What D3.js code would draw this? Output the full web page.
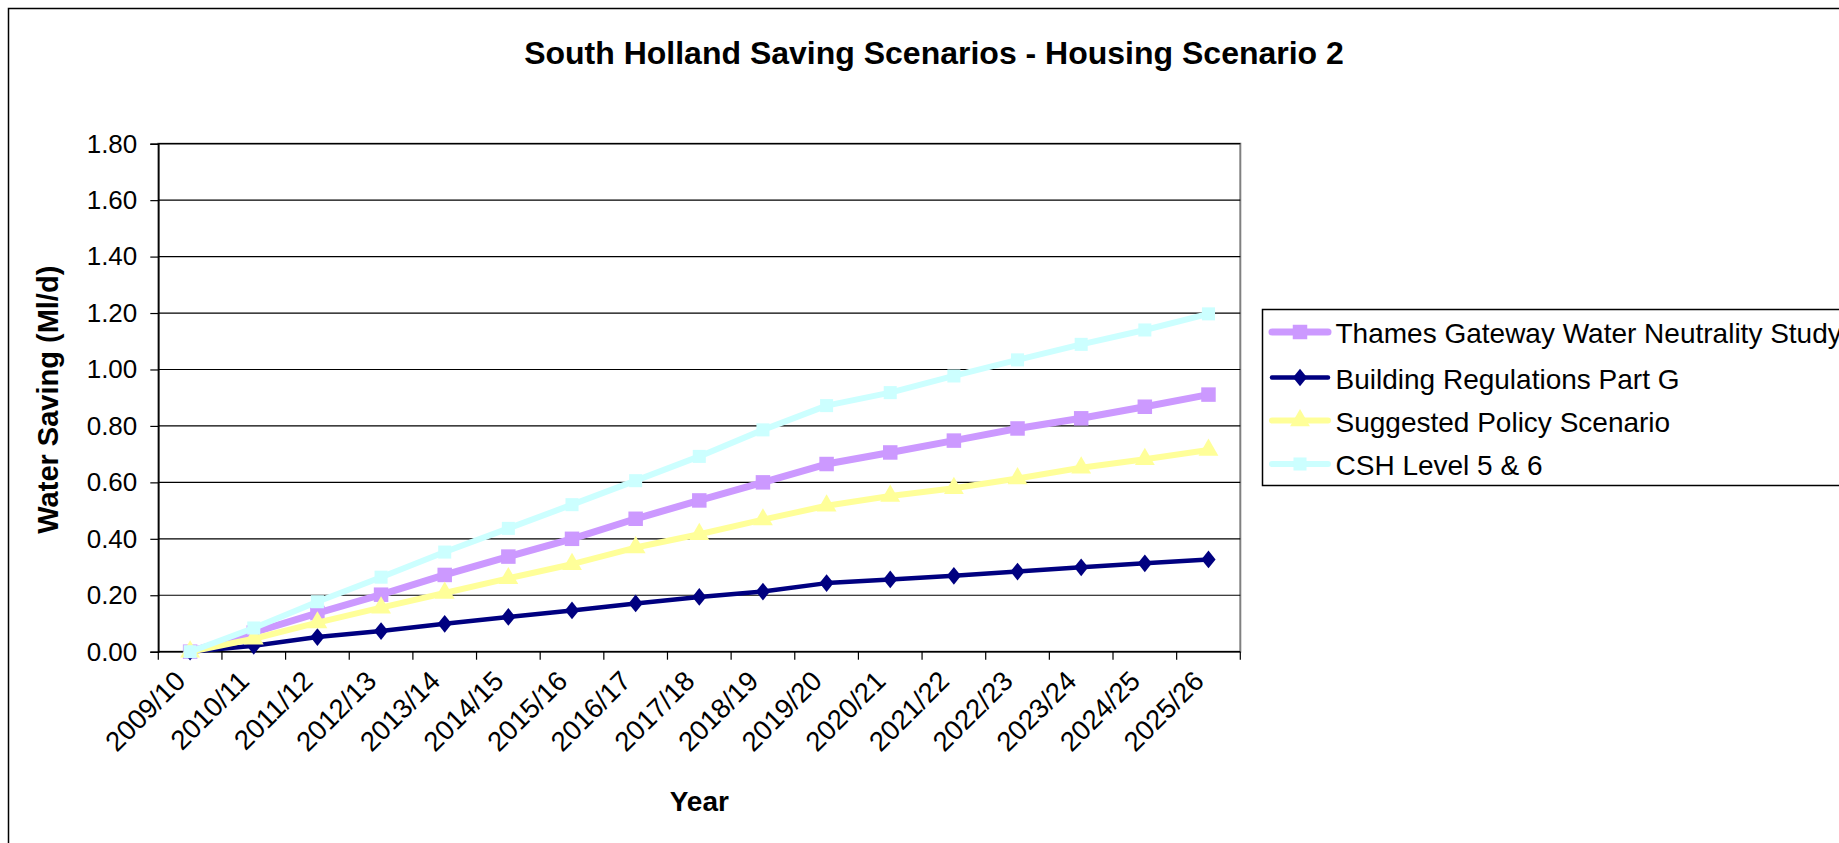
<!DOCTYPE html>
<html>
<head>
<meta charset="utf-8">
<script src="https://cdn.jsdelivr.net/npm/d3@7"></script>
<style>
  html, body { margin: 0; padding: 0; background: #fff; }
  svg { display: block; font-family: "Liberation Sans", Arial, sans-serif; }
</style>
</head>
<body>
<svg id="chart" width="1839" height="843"></svg>
<script>
const categories = ["2009/10","2010/11","2011/12","2012/13","2013/14","2014/15","2015/16","2016/17","2017/18","2018/19","2019/20","2020/21","2021/22","2022/23","2023/24","2024/25","2025/26"];
const seriesNames = ["Thames Gateway Water Neutrality Study","Building Regulations Part G","Suggested Policy Scenario","CSH Level 5 & 6"];
const thamesValues = [0, 0.068, 0.137, 0.202, 0.272, 0.337, 0.400, 0.471, 0.536, 0.600, 0.665, 0.706, 0.748, 0.791, 0.827, 0.868, 0.911];
const buildingValues = [0, 0.021, 0.052, 0.073, 0.099, 0.123, 0.146, 0.171, 0.194, 0.213, 0.243, 0.256, 0.269, 0.284, 0.299, 0.313, 0.327];
const suggestedValues = [0, 0.046, 0.103, 0.156, 0.208, 0.260, 0.310, 0.369, 0.416, 0.468, 0.517, 0.552, 0.579, 0.614, 0.652, 0.682, 0.715];
const cshValues = [0, 0.084, 0.177, 0.264, 0.353, 0.437, 0.521, 0.606, 0.692, 0.786, 0.872, 0.918, 0.977, 1.034, 1.089, 1.140, 1.197];
const yTicks = [0, 0.2, 0.4, 0.6, 0.8, 1.0, 1.2, 1.4, 1.6, 1.8];
const titleText = "South Holland Saving Scenarios - Housing Scenario 2";
const xTitle = "Year";
const yTitle = "Water Saving (Ml/d)";

const svg = d3.select("#chart");
const plot = {left: 158.3, right: 1240.3, top: 143.7, bottom: 651.7};

// outer chart border
svg.append("rect").attr("x", 8.5).attr("y", 8.5).attr("width", 1900).attr("height", 900)
  .attr("fill", "#fff").attr("stroke", "#000").attr("stroke-width", 1.5);

const x = d3.scaleBand().domain(categories).range([plot.left, plot.right]).padding(0);
const y = d3.scaleLinear().domain([0, 1.8]).range([plot.bottom, plot.top]);
const cx = c => x(c) + x.bandwidth() / 2;

// plot area frame (grey top/right)
svg.append("rect").attr("x", plot.left).attr("y", plot.top)
  .attr("width", plot.right - plot.left).attr("height", plot.bottom - plot.top)
  .attr("fill", "#fff").attr("stroke", "#808080").attr("stroke-width", 2);

// gridlines
svg.append("g").selectAll("line").data(yTicks.slice(1)).join("line")
  .attr("x1", plot.left).attr("x2", plot.right)
  .attr("y1", d => y(d)).attr("y2", d => y(d))
  .attr("stroke", "#000").attr("stroke-width", 1.2);

// y axis
const yAxis = svg.append("g").attr("transform", `translate(${plot.left},0)`)
  .call(d3.axisLeft(y).tickValues(yTicks).tickFormat(d3.format(".2f")).tickSize(8).tickPadding(13));
yAxis.select(".domain").attr("stroke", "#000").attr("stroke-width", 1.5);
yAxis.selectAll(".tick line").attr("stroke", "#000").attr("stroke-width", 1.2);
yAxis.selectAll(".tick text").attr("font-size", 26).attr("fill", "#000")
  .attr("font-family", '"Liberation Sans", Arial, sans-serif');

// x axis line + ticks at category boundaries
const xg = svg.append("g");
xg.append("line").attr("x1", plot.left).attr("x2", plot.right)
  .attr("y1", plot.bottom).attr("y2", plot.bottom).attr("stroke", "#000").attr("stroke-width", 1.5);
const boundaries = categories.map(c => x(c)).concat([x.range()[1]]);
xg.selectAll("line.tk").data(boundaries).join("line").attr("class", "tk")
  .attr("x1", d => d).attr("x2", d => d)
  .attr("y1", plot.bottom).attr("y2", plot.bottom + 8)
  .attr("stroke", "#000").attr("stroke-width", 1.2);
xg.selectAll("text").data(categories).join("text")
  .attr("transform", c => `translate(${cx(c) - 3},${plot.bottom + 31}) rotate(-45)`)
  .attr("text-anchor", "end")
  .attr("font-size", 27.5).attr("fill", "#000")
  .text(c => c);

// series
const diamond = {
  draw(ctx, size) {
    const h = Math.sqrt(size) * 0.75, w = Math.sqrt(size) * 0.6;
    ctx.moveTo(0, -h); ctx.lineTo(w, 0); ctx.lineTo(0, h); ctx.lineTo(-w, 0); ctx.closePath();
  }
};
const series = [
  {name: seriesNames[0], values: thamesValues, color: "#CC99FF", width: 7, symbol: d3.symbolSquare, size: 210},
  {name: seriesNames[1], values: buildingValues, color: "#000080", width: 4.5, symbol: diamond, size: 140},
  {name: seriesNames[2], values: suggestedValues, color: "#FFFF99", width: 6, symbol: d3.symbolTriangle, size: 170},
  {name: seriesNames[3], values: cshValues, color: "#CCFFFF", width: 6, symbol: d3.symbolSquare, size: 170}
];
const line = d3.line().x((d, i) => cx(categories[i])).y(d => y(d));
series.forEach(s => {
  const g = svg.append("g");
  g.append("path").attr("d", line(s.values)).attr("fill", "none")
    .attr("stroke", s.color).attr("stroke-width", s.width).attr("stroke-linejoin", "round");
  g.selectAll("path.m").data(s.values).join("path").attr("class", "m")
    .attr("transform", (d, i) => `translate(${cx(categories[i])},${y(d)})`)
    .attr("d", d3.symbol().type(s.symbol).size(s.size))
    .attr("fill", s.color);
});

// title
svg.append("text").attr("x", 934).attr("y", 64).attr("text-anchor", "middle")
  .attr("font-size", 32).attr("font-weight", "bold").attr("fill", "#000").text(titleText);
// axis titles
svg.append("text").attr("x", (plot.left + plot.right) / 2).attr("y", 811).attr("text-anchor", "middle")
  .attr("font-size", 28).attr("font-weight", "bold").attr("fill", "#000").text(xTitle);
svg.append("text").attr("transform", `translate(58,${(plot.top + plot.bottom) / 2 + 2}) rotate(-90)`)
  .attr("text-anchor", "middle")
  .attr("font-size", 29).attr("font-weight", "bold").attr("fill", "#000").text(yTitle);

// legend
const lg = svg.append("g");
lg.append("rect").attr("x", 1262.5).attr("y", 309.5).attr("width", 700).attr("height", 176)
  .attr("fill", "#fff").attr("stroke", "#000").attr("stroke-width", 1.5);
const rowY = [332, 377.5, 420.5, 464];
series.forEach((s, i) => {
  const yy = rowY[i];
  lg.append("line").attr("x1", 1272).attr("x2", 1328).attr("y1", yy).attr("y2", yy)
    .attr("stroke", s.color).attr("stroke-width", s.width).attr("stroke-linecap", "round");
  lg.append("path").attr("transform", `translate(1300,${yy})`)
    .attr("d", d3.symbol().type(s.symbol).size(s.size)).attr("fill", s.color);
  lg.append("text").attr("x", 1335.5).attr("y", yy + 11).attr("font-size", 28).attr("fill", "#000").text(s.name);
});
</script>
</body>
</html>
